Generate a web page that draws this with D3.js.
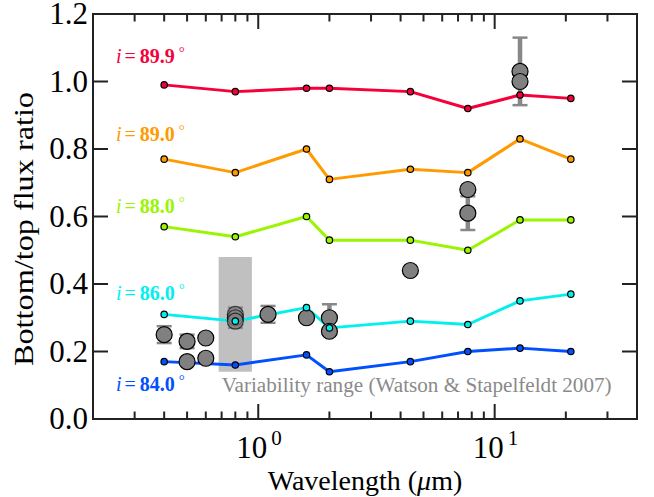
<!DOCTYPE html>
<html>
<head>
<meta charset="utf-8">
<script src="https://cdn.jsdelivr.net/npm/d3@7"></script>
<style>
  html, body { margin: 0; padding: 0; background: #fff; }
  svg { display: block; font-family: "Liberation Serif", "Times New Roman", serif; }
</style>
</head>
<body>
<svg id="chart" width="654" height="497"></svg>
<script>
// Model wavelengths (µm) shared by every inclination curve
const wavelengths = [0.4, 0.8, 1.6, 2.0, 4.4, 7.7, 12.8, 21];

// Bottom/top flux ratio for each model inclination
const ratio899 = [0.99, 0.97, 0.98, 0.98, 0.97, 0.92, 0.96, 0.95];
const ratio890 = [0.77, 0.73, 0.80, 0.71, 0.74, 0.73, 0.83, 0.77];
const ratio880 = [0.57, 0.54, 0.60, 0.53, 0.53, 0.50, 0.59, 0.59];
const ratio860 = [0.31, 0.29, 0.33, 0.27, 0.29, 0.28, 0.35, 0.37];
const ratio840 = [0.17, 0.16, 0.19, 0.14, 0.17, 0.20, 0.21, 0.20];

const inclinationLabels = ["89.9", "89.0", "88.0", "86.0", "84.0"];
const inclinationColors = ["#f5003a", "#ff9a00", "#99f500", "#00f0ee", "#0050ff"];

// Observed ratios (grey points) and their error half-widths (0 = no bar)
const obsWavelength = [0.4, 0.5, 0.5, 0.6, 0.6, 0.8, 0.8, 0.8, 1.1, 1.6, 2.0, 2.0, 4.4, 7.7, 7.7, 12.8, 12.8];
const obsRatio      = [0.25, 0.23, 0.17, 0.24, 0.18, 0.31, 0.30, 0.29, 0.31, 0.30, 0.30, 0.26, 0.44, 0.68, 0.61, 1.03, 1.00];
const obsError      = [0.025, 0.02, 0, 0, 0, 0.02, 0.02, 0.02, 0.025, 0, 0.04, 0, 0, 0, 0.05, 0.10, 0];
const obsFaded      = [false, false, false, false, false, true, true, true, false, false, false, false, false, false, false, false, false];

// Variability range band
const variabilityWavelength = [0.68, 0.94];
const variabilityRatio = [0.14, 0.48];
const variabilityText = "Variability range (Watson & Stapelfeldt 2007)";

const yTicks = [0, 0.2, 0.4, 0.6, 0.8, 1.0, 1.2];
const xMajorTicks = [1, 10];
const xMinorTicks = [0.3, 0.4, 0.5, 0.6, 0.7, 0.8, 0.9, 2, 3, 4, 5, 6, 7, 8, 9, 20, 30];

const series = [ratio899, ratio890, ratio880, ratio860, ratio840];

const margin = { left: 93, right: 17, top: 14, bottom: 78 };
const W = 654, H = 497;
const svg = d3.select("#chart");

const x = d3.scaleLog().domain([0.2, 40]).range([margin.left, W - margin.right]);
const y = d3.scaleLinear().domain([0, 1.2]).range([H - margin.bottom, margin.top]);

const x0 = x.range()[0], x1 = x.range()[1];
const y0 = y.range()[0], y1 = y.range()[1];

// Variability band
svg.append("rect")
  .attr("x", x(variabilityWavelength[0]))
  .attr("y", y(variabilityRatio[1]))
  .attr("width", x(variabilityWavelength[1]) - x(variabilityWavelength[0]))
  .attr("height", y(variabilityRatio[0]) - y(variabilityRatio[1]))
  .attr("fill", "#c0c0c0");

svg.append("text")
  .attr("x", x(variabilityWavelength[0]) + 3)
  .attr("y", 392)
  .attr("fill", "#8a8a8a")
  .attr("font-size", 20)
  .attr("textLength", 390)
  .attr("lengthAdjust", "spacingAndGlyphs")
  .text(variabilityText);

// Model curves
const line = d3.line().x((d, i) => x(wavelengths[i])).y(d => y(d));
series.forEach((vals, k) => {
  svg.append("path")
    .datum(vals)
    .attr("d", line)
    .attr("fill", "none")
    .attr("stroke", inclinationColors[k])
    .attr("stroke-width", 3)
    .attr("stroke-linejoin", "round");
});

// Observed points: error bars first, circles on top
const obs = obsWavelength.map((w, i) => ({ w, r: obsRatio[i], e: obsError[i], faded: obsFaded[i] }));
const withErr = obs.filter(d => d.e > 0);
const eb = svg.append("g").attr("stroke", "#888");
eb.selectAll("line.bar").data(withErr).join("line")
  .attr("x1", d => x(d.w)).attr("x2", d => x(d.w))
  .attr("y1", d => y(d.r - d.e)).attr("y2", d => y(d.r + d.e))
  .attr("stroke-width", 4.5);
[-1, 1].forEach(s => {
  eb.append("g").selectAll("line").data(withErr).join("line")
    .attr("x1", d => x(d.w) - 7.5).attr("x2", d => x(d.w) + 7.5)
    .attr("y1", d => y(d.r + s * d.e)).attr("y2", d => y(d.r + s * d.e))
    .attr("stroke-width", 2.5);
});

svg.append("g").selectAll("circle").data(obs).join("circle")
  .attr("cx", d => x(d.w)).attr("cy", d => y(d.r))
  .attr("r", 8)
  .attr("fill", "#808080")
  .attr("stroke", "#000")
  .attr("stroke-width", 1.2)
  .attr("opacity", d => d.faded ? 0.65 : 1);

// Model markers
series.forEach((vals, k) => {
  svg.append("g").selectAll("circle").data(vals).join("circle")
    .attr("cx", (d, i) => x(wavelengths[i])).attr("cy", d => y(d))
    .attr("r", 3.2)
    .attr("fill", inclinationColors[k])
    .attr("stroke", "#000")
    .attr("stroke-width", 1.2);
});

// Inclination labels
const labelBaselines = [63, 141, 213, 300, 391];
inclinationLabels.forEach((lab, k) => {
  const t = svg.append("text")
    .attr("x", 116)
    .attr("y", labelBaselines[k])
    .attr("fill", inclinationColors[k])
    .attr("font-size", 20);
  t.append("tspan").attr("font-style", "italic").text("i");
  t.append("tspan").attr("dx", 3).text("=");
  t.append("tspan").attr("dx", 4).attr("font-weight", "bold").text(lab);
  t.append("tspan").attr("dx", 4).attr("font-size", 15).attr("dy", -6).text("°");
});

// Frame and ticks
const axes = svg.append("g").attr("stroke", "#222").attr("stroke-width", 2);
axes.append("rect").attr("x", x0).attr("y", y1).attr("width", x1 - x0).attr("height", y0 - y1).attr("fill", "none");

yTicks.forEach(v => {
  axes.append("line").attr("x1", x0).attr("x2", x0 + 15).attr("y1", y(v)).attr("y2", y(v));
  axes.append("line").attr("x1", x1).attr("x2", x1 - 15).attr("y1", y(v)).attr("y2", y(v));
});
xMajorTicks.forEach(v => {
  axes.append("line").attr("x1", x(v)).attr("x2", x(v)).attr("y1", y0).attr("y2", y0 - 15);
  axes.append("line").attr("x1", x(v)).attr("x2", x(v)).attr("y1", y1).attr("y2", y1 + 15);
});
xMinorTicks.forEach(v => {
  axes.append("line").attr("x1", x(v)).attr("x2", x(v)).attr("y1", y0).attr("y2", y0 - 7.5);
  axes.append("line").attr("x1", x(v)).attr("x2", x(v)).attr("y1", y1).attr("y2", y1 + 7.5);
});

// Tick labels
svg.append("g").selectAll("text").data(yTicks).join("text")
  .attr("x", x0 - 5)
  .attr("y", d => y(d) + 10)
  .attr("text-anchor", "end")
  .attr("font-size", 31)
  .attr("fill", "#000")
  .text(d => d.toFixed(1));

xMajorTicks.forEach(v => {
  const t = svg.append("text")
    .attr("x", x(v) - 22)
    .attr("y", 458)
    .attr("font-size", 31)
    .attr("fill", "#000");
  t.append("tspan").text("10");
  t.append("tspan").attr("dx", 4).attr("dy", -13).attr("font-size", 21).text(String(Math.round(Math.log10(v))));
});

// Axis titles
const xt = svg.append("text")
  .attr("x", (x0 + x1) / 2)
  .attr("y", 490)
  .attr("text-anchor", "middle")
  .attr("font-size", 28)
  .attr("fill", "#000");
xt.append("tspan").text("Wavelength (");
xt.append("tspan").attr("font-style", "italic").text("μ");
xt.append("tspan").text("m)");

svg.append("text")
  .attr("transform", `translate(33, 229) rotate(-90)`)
  .attr("text-anchor", "middle")
  .attr("font-size", 28)
  .attr("textLength", 274)
  .attr("lengthAdjust", "spacingAndGlyphs")
  .attr("fill", "#000")
  .text("Bottom/top flux ratio");
</script>
</body>
</html>
